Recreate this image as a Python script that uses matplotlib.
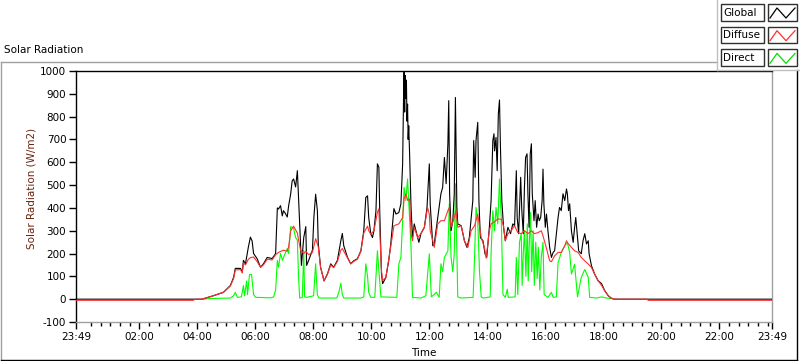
import matplotlib.pyplot as plt
from matplotlib.lines import Line2D
from matplotlib.patches import Rectangle

plt.rcParams['font.family'] = 'DejaVu Sans'

# time axis in decimal hours; the chart runs from 23:49 (previous day) to 23:49
t_start = -11 / 60
t_end = 24 - 11 / 60

global_t = [t_start, 4.16, 4.55, 4.90, 5.14, 5.25, 5.31, 5.49, 5.55, 5.59, 5.66, 5.76, 5.83, 5.89, 5.94,
            6.06, 6.18, 6.28, 6.41, 6.58, 6.70, 6.76, 6.80, 6.87, 6.93, 6.97, 7.04, 7.10, 7.15, 7.22,
            7.27, 7.32, 7.39, 7.45, 7.49, 7.54, 7.59, 7.67, 7.74, 7.77, 7.84, 7.97, 8.02, 8.08, 8.14,
            8.17, 8.25, 8.37, 8.49, 8.60, 8.70, 8.83, 8.95, 9.00, 9.05, 9.18, 9.29, 9.39, 9.52, 9.64,
            9.74, 9.81, 9.87, 9.91, 9.98, 10.04, 10.09, 10.16, 10.21, 10.26, 10.29, 10.35, 10.39, 10.50,
            10.60, 10.67, 10.78, 10.85, 10.95, 11.02, 11.08, 11.11, 11.13, 11.15, 11.17, 11.19, 11.21,
            11.23, 11.25, 11.27, 11.29, 11.32, 11.37, 11.42, 11.48, 11.60, 11.64, 11.71, 11.83, 11.92,
            12.00, 12.03, 12.12, 12.17, 12.29, 12.40, 12.46, 12.52, 12.58, 12.64, 12.67, 12.70, 12.75,
            12.81, 12.86, 12.90, 12.95, 12.98, 13.10, 13.21, 13.30, 13.38, 13.50, 13.53, 13.58, 13.61,
            13.67, 13.71, 13.76, 13.85, 13.92, 13.98, 14.07, 14.13, 14.19, 14.23, 14.25, 14.30, 14.34,
            14.38, 14.42, 14.45, 14.50, 14.56, 14.62, 14.71, 14.80, 14.88, 14.94, 15.00, 15.03, 15.08,
            15.15, 15.19, 15.24, 15.28, 15.32, 15.37, 15.40, 15.44, 15.48, 15.52, 15.55, 15.61, 15.65,
            15.70, 15.75, 15.79, 15.84, 15.89, 15.92, 15.95, 16.00, 16.04, 16.09, 16.15, 16.21, 16.27,
            16.32, 16.38, 16.44, 16.49, 16.55, 16.61, 16.67, 16.73, 16.76, 16.80, 16.84, 16.90, 16.96,
            17.01, 17.05, 17.10, 17.15, 17.24, 17.30, 17.36, 17.42, 17.48, 17.51, 17.59, 17.70, 17.82,
            17.94, 18.05, 18.17, 18.28, 18.40, t_end]
global_v = [0, 0, 15, 30, 60, 95, 135, 135, 118, 170, 155, 228, 272, 255, 200,
            178, 140, 155, 183, 178, 200, 400, 395, 410, 365, 388, 375, 360, 410, 462,
            518, 527, 492, 563, 448, 300, 148, 270, 318, 148, 170, 215, 360, 460, 388,
            245, 140, 80, 112, 155, 140, 170, 257, 288, 234, 183, 155, 168, 177, 212,
            300, 446, 453, 358, 287, 270, 300, 388, 593, 578, 388, 112, 68, 95,
            168, 242, 397, 373, 380, 418, 593, 870, 1000, 820, 980, 880, 960,
            780, 855, 700, 760, 637, 402, 270, 330, 270, 249, 287, 315, 402,
            593, 418, 234, 242, 358, 462, 490, 621, 506, 681, 870, 462, 300,
            344, 462, 884, 402, 330, 322, 256, 227, 270, 432, 695, 534, 695,
            775, 432, 270, 256, 199, 183, 315, 432, 695, 725, 650, 709, 563,
            812, 873, 681, 432, 315, 256, 315, 287, 330, 322, 563, 358, 287,
            534, 388, 287, 490, 621, 637, 462, 315, 637, 681, 462, 344, 432,
            315, 373, 344, 358, 432, 570, 418, 315, 373, 300, 227, 183, 205,
            212, 287, 358, 402, 388, 462, 432, 483, 462, 388, 418, 300, 249,
            315, 358, 287, 212, 199, 256, 287, 242, 256, 199, 147, 110, 81,
            68, 37, 15, 4, 0, 0]

diffuse_t = [t_start, 3.86, 3.93, 4.16, 4.55, 4.90, 5.14, 5.25, 5.31, 5.49, 5.55, 5.59, 5.66, 5.76,
             5.83, 5.94, 6.06, 6.18, 6.28, 6.41, 6.58, 6.70, 6.80, 6.97, 7.10, 7.15, 7.22, 7.32, 7.45,
             7.49, 7.56, 7.67, 7.74, 7.84, 7.97, 8.08, 8.17, 8.25, 8.37, 8.49, 8.60, 8.70, 8.83, 8.95,
             9.00, 9.18, 9.29, 9.39, 9.52, 9.64, 9.74, 9.87, 9.91, 9.98, 10.09, 10.21, 10.26, 10.29,
             10.35, 10.39, 10.50, 10.67, 10.78, 10.95, 11.08, 11.13, 11.19, 11.26, 11.32, 11.37, 11.42,
             11.48, 11.60, 11.71, 11.83, 11.94, 12.00, 12.03, 12.12, 12.17, 12.29, 12.40, 12.52, 12.64,
             12.68, 12.75, 12.86, 12.92, 12.98, 13.10, 13.21, 13.33, 13.44, 13.56, 13.67, 13.79, 13.90,
             13.96, 14.07, 14.13, 14.25, 14.36, 14.48, 14.56, 14.62, 14.71, 14.82, 14.94, 15.05, 15.17,
             15.28, 15.40, 15.52, 15.63, 15.75, 15.86, 15.92, 16.03, 16.15, 16.21, 16.32, 16.44, 16.55,
             16.67, 16.73, 16.78, 16.90, 17.01, 17.13, 17.24, 17.36, 17.48, 17.59, 17.70, 17.82, 17.94,
             18.05, 18.17, 18.28, 18.40, 19.53, 19.54, t_end]
diffuse_v = [-5, -5, 0, 0, 15, 30, 58, 90, 128, 130, 115, 160, 150, 175,
             182, 185, 165, 140, 150, 175, 172, 195, 205, 215, 210, 230, 300, 320, 290,
             260, 215, 200, 210, 195, 205, 265, 230, 140, 80, 110, 150, 138, 165, 215,
             222, 180, 155, 165, 175, 210, 290, 320, 300, 285, 300, 380, 396, 300,
             126, 82, 95, 230, 322, 330, 358, 440, 462, 432, 440, 287, 256,
             315, 270, 287, 315, 402, 373, 300, 256, 227, 330, 344, 344, 388,
             400, 315, 358, 388, 315, 322, 256, 227, 300, 322, 373, 270, 227,
             180, 300, 330, 340, 351, 351, 320, 256, 287, 300, 322, 292, 287,
             300, 287, 300, 287, 292, 300, 278, 227, 168, 164, 190, 205, 205,
             234, 256, 245, 227, 212, 205, 183, 168, 154, 139, 110, 81, 60,
             37, 15, 4, 0, 0, -5, -5]

direct_t = [4.21, 4.45, 5.14, 5.25, 5.31, 5.38, 5.52, 5.59, 5.63, 5.70, 5.73, 5.80, 5.87, 5.94, 6.01,
            6.53, 6.63, 6.70, 6.76, 6.80, 6.87, 6.94, 7.01, 7.10, 7.15, 7.22, 7.32, 7.39, 7.45, 7.49,
            7.53, 7.62, 7.67, 7.70, 7.77, 8.01, 8.08, 8.14, 8.19, 8.81, 8.88, 8.95, 9.00, 9.05, 9.64,
            9.74, 9.81, 9.87, 9.91, 9.98, 10.12, 10.21, 10.26, 10.33, 10.88, 10.95, 11.02, 11.08, 11.13,
            11.19, 11.25, 11.31, 11.37, 11.42, 11.71, 11.88, 12.00, 12.07, 12.24, 12.34, 12.40, 12.46,
            12.52, 12.64, 12.69, 12.75, 12.81, 12.86, 12.90, 12.95, 12.98, 13.10, 13.51, 13.56, 13.61,
            13.67, 13.73, 13.79, 13.86, 14.10, 14.13, 14.19, 14.25, 14.30, 14.36, 14.42, 14.48, 14.54,
            14.62, 14.69, 14.72, 14.96, 15.00, 15.05, 15.11, 15.17, 15.20, 15.24, 15.28, 15.33, 15.38,
            15.41, 15.45, 15.49, 15.53, 15.58, 15.62, 15.67, 15.72, 15.76, 15.81, 15.86, 15.92, 15.96,
            16.09, 16.21, 16.27, 16.38, 16.44, 16.55, 16.67, 16.76, 16.84, 16.90, 17.01, 17.11, 17.24,
            17.36, 17.48, 17.53, 17.76, 17.94, 18.11, 18.28, 18.34]
direct_v = [0, 3, 5, 15, 30, 8, 10, 60, 15, 80, 20, 108, 108, 20, 8,
            6, 10, 40, 170, 140, 200, 170, 195, 222, 200, 318, 310, 270, 258, 100,
            5, 8, 213, 10, 8, 15, 155, 20, 5, 5, 30, 70, 20, 5, 5,
            10, 155, 100, 30, 8, 8, 212, 130, 10, 8, 155, 183, 344, 490,
            432, 527, 373, 227, 8, 5, 15, 199, 10, 30, 8, 155, 120,
            183, 212, 418, 183, 120, 200, 506, 212, 10, 5, 8, 183, 402,
            344, 120, 10, 5, 10, 200, 388, 300, 402, 330, 527, 358, 20,
            8, 44, 8, 10, 183, 20, 250, 287, 60, 200, 300, 100, 330,
            80, 250, 380, 120, 300, 60, 250, 90, 227, 40, 180, 250, 20,
            8, 30, 8, 10, 160, 205, 234, 248, 205, 110, 153, 10, 96,
            130, 96, 8, 5, 10, 5, 3, 0]

major_ticks = [t_start, 2, 4, 6, 8, 10, 12, 14, 16, 18, 20, 22, t_end]
major_labels = ['23:49', '02:00', '04:00', '06:00', '08:00', '10:00', '12:00',
                '14:00', '16:00', '18:00', '20:00', '22:00', '23:49']
minor_ticks = [m / 60 for m in range(0, 24 * 60, 20) if m % 120 != 0]
y_ticks = list(range(-100, 1001, 100))

legend_names = ['Global', 'Diffuse', 'Direct']
legend_colors = ['black', '#ff3030', '#00e000']

W, H = 800, 361


def fx(x):
    return x / W


def fy(y):
    return 1 - y / H


fig = plt.figure(figsize=(W / 100, H / 100), dpi=100)
fig.patch.set_facecolor('white')

ax = fig.add_axes([fx(76), fy(322), (772 - 76) / W, (322 - 71) / H])
ax.plot(direct_t, direct_v, color='#00ff00', lw=0.8, zorder=2)
ax.plot(global_t, global_v, color='black', lw=0.8, zorder=3)
ax.plot(diffuse_t, diffuse_v, color='#ff3030', lw=0.8, zorder=4)

ax.set_xlim(t_start, t_end)
ax.set_ylim(-100, 1000)
ax.set_xticks(major_ticks)
ax.set_xticklabels(major_labels)
ax.set_xticks(minor_ticks, minor=True)
ax.set_yticks(y_ticks)
ax.set_yticklabels([str(v) for v in y_ticks])
ax.tick_params(axis='both', which='major', direction='out', length=5, width=1,
               labelsize=7.5, pad=2, colors='black')
ax.tick_params(axis='x', which='minor', direction='out', length=3, width=1, colors='black')

ax.spines['top'].set_color('black')
ax.spines['left'].set_color('black')
ax.spines['right'].set_color('#a0a0a0')
ax.spines['bottom'].set_color('#a0a0a0')
for s in ax.spines.values():
    s.set_linewidth(1)

fig.text(fx(424), fy(353), 'Time', ha='center', va='center', fontsize=7.5)
fig.text(fx(32), fy(188), 'Solar Radiation (W/m2)', ha='center', va='center',
         rotation=90, fontsize=7.5, color='#6b2410')
fig.text(fx(4), fy(50), 'Solar Radiation', ha='left', va='center', fontsize=7.5)

# outer frame of the chart panel
fig.add_artist(Line2D([fx(0.5), fx(717)], [fy(61.5), fy(61.5)], color='#a0a0a0', lw=1))
fig.add_artist(Line2D([fx(0.5), fx(0.5)], [fy(61.5), fy(360)], color='#a0a0a0', lw=1))
fig.add_artist(Line2D([fx(0.5), fx(796.5)], [fy(359.5), fy(359.5)], color='black', lw=1))
fig.add_artist(Line2D([fx(796.5), fx(796.5)], [fy(70), fy(360)], color='black', lw=1))

# legend panel
fig.add_artist(Line2D([fx(717), fx(717)], [fy(0), fy(70)], color='#c0c0c0', lw=1))
fig.add_artist(Line2D([fx(717), fx(800)], [fy(70), fy(70)], color='#c0c0c0', lw=1))
for i, (name, col) in enumerate(zip(legend_names, legend_colors)):
    top = 4 + i * 22.7
    fig.add_artist(Rectangle((fx(720.5), fy(top + 16.5)), (763.5 - 720.5) / W, 16.5 / H,
                             facecolor='white', edgecolor='#303030', lw=1))
    fig.text(fx(723), fy(top + 8.5), name, ha='left', va='center', fontsize=7.5)
    fig.add_artist(Rectangle((fx(767.5), fy(top + 16.5)), (796.5 - 767.5) / W, 16.5 / H,
                             facecolor='white', edgecolor='#303030', lw=1))
    zx = [770, 777, 786, 795]
    zy = [top + 14, top + 4, top + 14, top + 4]
    fig.add_artist(Line2D([fx(v) for v in zx], [fy(v) for v in zy], color=col, lw=0.9))

fig.savefig('out.png', dpi=100)
